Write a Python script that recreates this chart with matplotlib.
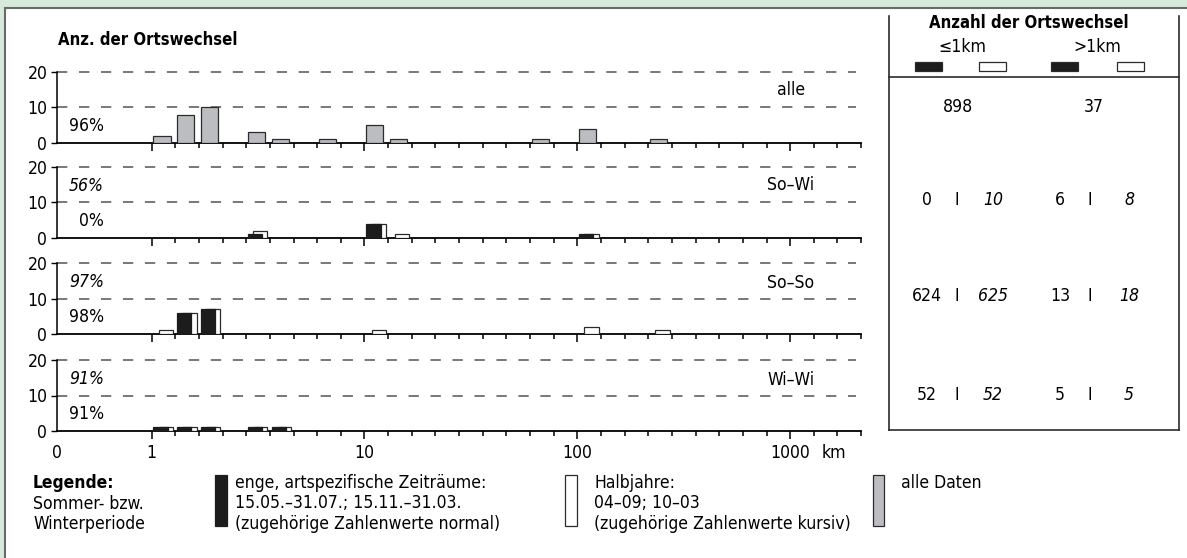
import matplotlib
matplotlib.use("Agg")
import matplotlib.pyplot as plt
from matplotlib.patches import Rectangle
from matplotlib import font_manager

# font: narrow sans if available, else condensed DejaVu
names = {f.name for f in font_manager.fontManager.ttflist}
FONT = "Liberation Sans Narrow" if "Liberation Sans Narrow" in names else "DejaVu Sans"
plt.rcParams["font.family"] = [FONT, "DejaVu Sans"]
plt.rcParams["font.stretch"] = "condensed"

# Data: distance classes as bin index (0 = 0 km, 4 = 1 km, 13 = 10 km, 22 = 100 km, 31 = 1000 km)
panel_names = ["alle", "So–Wi", "So–So", "Wi–Wi"]
pct_italic = [None, "56%", "97%", "91%"]
pct_normal = ["96%", "0%", "98%", "91%"]

alle_bins = [4, 5, 6, 8, 9, 11, 13, 14, 20, 22, 25]
alle_vals = [2, 8, 10, 3, 1, 1, 5, 1, 1, 4, 1]

sowi_black_bins = [8, 13, 22]
sowi_black_vals = [1, 4, 1]
sowi_white_bins = [8, 13, 14, 22]
sowi_white_vals = [2, 4, 1, 1]

soso_black_bins = [5, 6]
soso_black_vals = [6, 7]
soso_white_bins = [4, 5, 6, 13, 22, 25]
soso_white_vals = [1, 6, 7, 1, 2, 1]

wiwi_black_bins = [4, 5, 6, 8, 9]
wiwi_black_vals = [1, 1, 1, 1, 1]
wiwi_white_bins = [4, 5, 6, 8, 9]
wiwi_white_vals = [1, 1, 1, 1, 1]

x_tick_pos = [0, 4, 13, 22, 31]
x_tick_labels = ["0", "1", "10", "100", "1000"]

table_all = ["898", "37"]
table_rows = [
    ["0", "10", "6", "8"],
    ["624", "625", "13", "18"],
    ["52", "52", "5", "5"],
]

W, H = 1187, 558
fig = plt.figure(figsize=(W / 100, H / 100), dpi=100)
fig.patch.set_facecolor("#d6e9db")

# overlay axes in pixel coordinates
ov = fig.add_axes([0, 0, 1, 1], zorder=0)
ov.set_xlim(0, W)
ov.set_ylim(H, 0)
ov.axis("off")
ov.add_patch(Rectangle((5, 8), 1300, 700, facecolor="white", edgecolor="#6a6a6a", lw=1.5))

EDGE = "#2b2b2b"
GRAY = "#bcbdc0"
FS = 12.6      # normal text
FSB = 12       # bold titles

baselines = [143, 238, 334, 431]
px_per_bin = 23.65
nbins = 34

black_data = [None, (sowi_black_bins, sowi_black_vals), (soso_black_bins, soso_black_vals),
              (wiwi_black_bins, wiwi_black_vals)]
white_data = [None, (sowi_white_bins, sowi_white_vals), (soso_white_bins, soso_white_vals),
              (wiwi_white_bins, wiwi_white_vals)]

for i, b in enumerate(baselines):
    ax = fig.add_axes([57 / W, 1 - b / H, nbins * px_per_bin / W, 71 / H], zorder=2)
    ax.patch.set_alpha(0)
    ax.set_xlim(0, nbins)
    ax.set_ylim(0, 20)
    for s in ["top", "right"]:
        ax.spines[s].set_visible(False)
    ax.spines["left"].set_linewidth(1.1)
    ax.spines["bottom"].set_linewidth(1.3)
    ax.set_yticks([0, 10, 20])
    ax.set_yticklabels(["0", "10", "20"], fontsize=FS)
    ax.tick_params(axis="y", length=4, width=1, pad=3)
    ax.set_xticks([4, 13, 22, 31])
    ax.set_xticks(range(4, nbins + 1), minor=True)
    ax.set_xticklabels([])
    ax.tick_params(axis="x", which="major", length=6, width=1.1)
    ax.tick_params(axis="x", which="minor", length=3.5, width=1.1)

    for yv in [10, 20]:
        ax.plot([0, 33.8], [yv, yv], color="#787878", lw=1.4,
                linestyle=(0, (5.3, 6.0)), clip_on=False, zorder=1)

    if i == 0:
        ax.bar([u + 0.08 for u in alle_bins], alle_vals, width=0.72, align="edge",
               color=GRAY, edgecolor=EDGE, lw=0.9, zorder=3)
    else:
        wb, wv = white_data[i]
        bb, bv = black_data[i]
        ax.bar([u + 0.3 for u in wb], wv, width=0.6, align="edge",
               color="white", edgecolor=EDGE, lw=0.9, zorder=3)
        ax.bar([u + 0.08 for u in bb], bv, width=0.6, align="edge",
               color="#1c1c1c", edgecolor="#1c1c1c", lw=0.9, zorder=4)

    # labels
    ov.text(791, [90, 185, 283, 380][i], panel_names[i], fontsize=FS, ha="center", va="center")
    ov.text(104, b - 17, pct_normal[i], fontsize=FS, ha="right", va="center")
    if pct_italic[i]:
        ov.text(104, b - 52, pct_italic[i], fontsize=FS, ha="right", va="center", style="italic")

# x labels
for p, lab in zip(x_tick_pos, x_tick_labels):
    ov.text(57 + p * px_per_bin, 453, lab, fontsize=FS, ha="center", va="center")
ov.text(834, 453, "km", fontsize=FS, ha="center", va="center")

ov.text(58, 40, "Anz. der Ortswechsel", fontsize=FSB, fontweight="bold", ha="left", va="center")

# table on the right
lc = "#2b2b2b"
ov.plot([889, 889], [16, 430], color=lc, lw=1.2)
ov.plot([1179, 1179], [16, 430], color=lc, lw=1.2)
ov.plot([889, 1179], [430, 430], color=lc, lw=1.2)
ov.plot([889, 1179], [77, 77], color=lc, lw=1.2)
ov.text(1029, 23, "Anzahl der Ortswechsel", fontsize=FSB, fontweight="bold", ha="center", va="center")
ov.text(962, 47, "≤1km", fontsize=FS, ha="center", va="center")
ov.text(1097, 47, ">1km", fontsize=FS, ha="center", va="center")
for x0, fc in [(915, "#1c1c1c"), (979, "white"), (1051, "#1c1c1c"), (1117, "white")]:
    ov.add_patch(Rectangle((x0, 62), 27, 9, facecolor=fc, edgecolor=EDGE, lw=0.9))

ov.text(958, 107, table_all[0], fontsize=FS, ha="center", va="center")
ov.text(1094, 107, table_all[1], fontsize=FS, ha="center", va="center")
row_y = [200, 296, 395]
col_x = [927, 993, 1060, 1129]
for y, row in zip(row_y, table_rows):
    for j, val in enumerate(row):
        ov.text(col_x[j], y, val, fontsize=FS, ha="center", va="center",
                style="italic" if j % 2 == 1 else "normal")
    ov.text(957, y, "I", fontsize=FS, ha="center", va="center")
    ov.text(1090, y, "I", fontsize=FS, ha="center", va="center")

# legend at the bottom
ov.text(33, 483, "Legende:", fontsize=FSB + 0.5, fontweight="bold", ha="left", va="center")
ov.text(33, 504, "Sommer- bzw.", fontsize=FS, ha="left", va="center")
ov.text(33, 524, "Winterperiode", fontsize=FS, ha="left", va="center")

ov.add_patch(Rectangle((215, 475), 12, 51, facecolor="#1c1c1c", edgecolor="#1c1c1c", lw=0.9))
for k, t in enumerate(["enge, artspezifische Zeiträume:", "15.05.–31.07.; 15.11.–31.03.",
                       "(zugehörige Zahlenwerte normal)"]):
    ov.text(235, 483 + k * 20.5, t, fontsize=FS, ha="left", va="center")

ov.add_patch(Rectangle((565, 475), 12, 51, facecolor="white", edgecolor=EDGE, lw=0.9))
for k, t in enumerate(["Halbjahre:", "04–09; 10–03", "(zugehörige Zahlenwerte kursiv)"]):
    ov.text(594, 483 + k * 20.5, t, fontsize=FS, ha="left", va="center")

ov.add_patch(Rectangle((873, 475), 11, 51, facecolor=GRAY, edgecolor=EDGE, lw=0.9))
ov.text(901, 483, "alle Daten", fontsize=FS, ha="left", va="center")

fig.savefig("out.png", dpi=100, facecolor=fig.get_facecolor())
